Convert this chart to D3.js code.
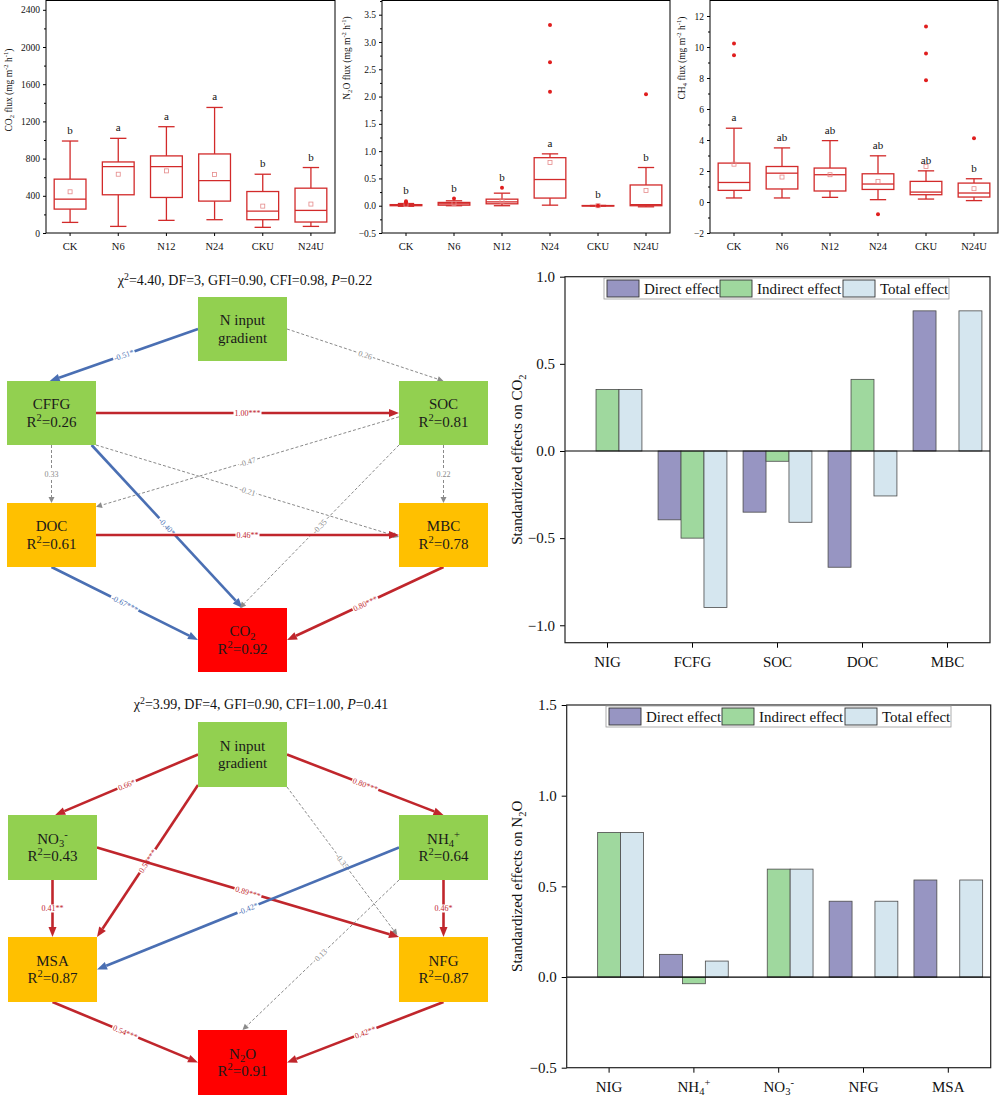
<!DOCTYPE html>
<html>
<head>
<meta charset="utf-8">
<title>GHG flux and SEM</title>
<script src="https://cdn.jsdelivr.net/npm/d3@7"></script>
<style>
  body { margin: 0; background: #fff; }
  svg { font-family: "Liberation Serif", "Times New Roman", serif; }
</style>
</head>
<body>
<script>
// ---------- boxplot data ----------
const treatments = ["CK", "N6", "N12", "N24", "CKU", "N24U"];
// [low whisker, Q1, median, Q3, high whisker, mean]
const co2Box = [
  [114, 257, 364, 579, 989, 443],
  [71, 411, 714, 764, 1018, 632],
  [136, 382, 714, 829, 1143, 668],
  [143, 343, 564, 850, 1350, 629],
  [61, 143, 236, 446, 632, 289],
  [71, 118, 243, 482, 704, 311]
];
const co2Out = [[], [], [], [], [], []];
const co2Letters = ["b", "a", "a", "a", "b", "b"];

const n2oBox = [
  [-0.01, 0.0, 0.01, 0.02, 0.04, 0.02],
  [0.0, 0.01, 0.035, 0.06, 0.09, 0.04],
  [0.0, 0.035, 0.07, 0.12, 0.23, 0.085],
  [0.01, 0.14, 0.48, 0.88, 0.95, 0.79],
  [-0.005, -0.003, 0.0, 0.003, 0.005, 0.0],
  [-0.02, 0.0, 0.02, 0.38, 0.70, 0.28]
];
const n2oOut = [[0.06, 0.08], [0.13], [0.33], [2.09, 2.63, 3.31], [0.0], [2.04]];
const n2oLetters = ["b", "b", "b", "a", "b", "b"];

const ch4Box = [
  [0.26, 0.75, 1.26, 2.51, 4.76, 2.44],
  [0.26, 0.84, 1.86, 2.29, 3.49, 1.61],
  [0.30, 0.71, 1.76, 2.19, 3.96, 1.76],
  [0.15, 0.81, 1.16, 1.82, 2.98, 1.33],
  [0.19, 0.47, 0.64, 1.33, 2.01, 2.29],
  [0.09, 0.32, 0.58, 1.22, 1.50, 0.86]
];
const ch4Out = [[9.47, 10.22], [], [], [-0.79], [7.86, 9.58, 11.33], [4.11]];
const ch4Letters = ["a", "ab", "ab", "ab", "ab", "b"];

// ---------- SEM data ----------
const co2Nodes = [
  { id: "NIG", lines: [["N input"], ["gradient"]], tier: "driver" },
  { id: "CFFG", lines: [["CFFG"], ["R", ["sup", "2"], "=0.26"]], tier: "driver" },
  { id: "SOC", lines: [["SOC"], ["R", ["sup", "2"], "=0.81"]], tier: "driver" },
  { id: "DOC", lines: [["DOC"], ["R", ["sup", "2"], "=0.61"]], tier: "mid" },
  { id: "MBC", lines: [["MBC"], ["R", ["sup", "2"], "=0.78"]], tier: "mid" },
  { id: "CO2", lines: [["CO", ["sub", "2"]], ["R", ["sup", "2"], "=0.92"]], tier: "resp" }
];
const co2Paths = [
  ["NIG", "CFFG", "-0.51*"],
  ["NIG", "SOC", "0.26"],
  ["CFFG", "SOC", "1.00***"],
  ["CFFG", "DOC", "0.33"],
  ["SOC", "MBC", "0.22"],
  ["SOC", "DOC", "-0.47"],
  ["CFFG", "MBC", "-0.21"],
  ["CFFG", "CO2", "-0.40*"],
  ["SOC", "CO2", "-0.35"],
  ["DOC", "MBC", "0.46**"],
  ["DOC", "CO2", "-0.67***"],
  ["MBC", "CO2", "0.80***"]
];
const co2Fit = ["χ", ["sup", "2"], "=4.40, DF=3, GFI=0.90, CFI=0.98,  ", ["it", "P"], "=0.22"];

const n2oNodes = [
  { id: "NIG", lines: [["N input"], ["gradient"]], tier: "driver" },
  { id: "NO3", lines: [["NO", ["sub", "3"], ["sup", "-"]], ["R", ["sup", "2"], "=0.43"]], tier: "driver" },
  { id: "NH4", lines: [["NH", ["sub", "4"], ["sup", "+"]], ["R", ["sup", "2"], "=0.64"]], tier: "driver" },
  { id: "MSA", lines: [["MSA"], ["R", ["sup", "2"], "=0.87"]], tier: "mid" },
  { id: "NFG", lines: [["NFG"], ["R", ["sup", "2"], "=0.87"]], tier: "mid" },
  { id: "N2O", lines: [["N", ["sub", "2"], "O"], ["R", ["sup", "2"], "=0.91"]], tier: "resp" }
];
const n2oPaths = [
  ["NIG", "NO3", "0.66*"],
  ["NIG", "NH4", "0.80***"],
  ["NIG", "MSA", "0.58***"],
  ["NIG", "NFG", "-0.35"],
  ["NO3", "MSA", "0.41**"],
  ["NH4", "NFG", "0.46*"],
  ["NO3", "NFG", "0.89***"],
  ["NH4", "MSA", "-0.42*"],
  ["NH4", "N2O", "0.13"],
  ["MSA", "N2O", "0.54***"],
  ["NFG", "N2O", "0.42**"]
];
const n2oFit = ["χ", ["sup", "2"], "=3.99, DF=4, GFI=0.90,  CFI=1.00, ", ["it", "P"], "=0.41"];

// ---------- effect bar data ----------
const effects = ["Direct effect", "Indirect effect", "Total effect"];
const co2Vars = ["NIG", "FCFG", "SOC", "DOC", "MBC"];
const co2Direct = [null, -0.395, -0.351, -0.667, 0.804];
const co2Indirect = [0.353, -0.50, -0.059, 0.411, null];
const co2Total = [0.353, -0.898, -0.409, -0.258, 0.804];

const n2oVars = ["NIG", "NH4", "NO3", "NFG", "MSA"];
const n2oVarLabels = [["NIG"], ["NH", ["sub", "4"], ["sup", "+"]], ["NO", ["sub", "3"], ["sup", "-"]], ["NFG"], ["MSA"]];
const n2oDirect = [null, 0.125, null, 0.418, 0.535];
const n2oIndirect = [0.797, -0.037, 0.595, null, null];
const n2oTotal = [0.797, 0.088, 0.595, 0.418, 0.535];

// ---------- styles / layout ----------
const boxRed = "#d22a2a";
const tierFill = { driver: "#92d050", mid: "#ffc000", resp: "#ff0000" };
const effectColors = ["#9795c2", "#9fd89e", "#d5e6ef"];
const posColor = "#c0262c", negColor = "#4a6fb3", nsColor = "#8a8a8a";

// grid cell of every node: [col, row]
const co2Grid = { NIG: [1, 0], CFFG: [0, 1], SOC: [2, 1], DOC: [0, 2], MBC: [2, 2], CO2: [1, 3] };
const n2oGrid = { NIG: [1, 0], NO3: [0, 1], NH4: [2, 1], MSA: [0, 2], NFG: [2, 2], N2O: [1, 3] };
// where each path leaves / enters its boxes, as fractions of the box
const co2Ports = [
  [[0, 0.5], [0.48, 0]], [[1, 0.5], [0.5, 0]], [[1, 0.5], [0, 0.5]], [[0.5, 1], [0.5, 0]],
  [[0.5, 1], [0.5, 0]], [[0, 0.56], [1, 0.06]], [[1, 1], [0, 0.53]], [[0.95, 1], [0.5, 0]],
  [[0, 1], [0.47, 0]], [[1, 0.5], [0, 0.5]], [[0.5, 1], [0, 0.5]], [[0.5, 1], [1, 0.5]]
];
const n2oPorts = [
  [[0, 0.5], [0.53, 0]], [[1, 0.5], [0.5, 0]], [[0, 0.97], [1, 0]], [[1, 1], [-0.02, -0.03]],
  [[0.5, 1], [0.5, 0]], [[0.5, 1], [0.5, 0]], [[1, 0.5], [0, 0]], [[0, 0.5], [1, 0.5]],
  [[0, 1], [0.5, 0]], [[0.5, 1], [0, 0.5]], [[0.5, 1], [1, 0.5]]
];

let svg = d3.select("body").append("svg").attr("width", 1000).attr("height", 1101);

// text with sub / superscripts / italics
function rich(text, parts, fs) {
  let off = 0;
  parts.forEach(p => {
    let t = p, s = fs, target = 0, it = false;
    if (typeof p !== "string") {
      t = p[1];
      if (p[0] === "sub") { s = fs * 0.7; target = fs * 0.25; }
      else if (p[0] === "sup") { s = fs * 0.7; target = -fs * 0.38; }
      else it = true;
    }
    let ts = text.append("tspan").attr("dy", target - off).style("font-size", s + "px").text(t);
    if (it) ts.style("font-style", "italic");
    off = target;
  });
}

function styleAxis(g, fs) {
  g.attr("font-family", null).attr("font-size", null);
  g.select(".domain").remove();
  g.selectAll("line").attr("stroke", "#000");
  g.selectAll("text").style("font-size", fs + "px").attr("fill", "#111");
}

// ---------- boxplot panel ----------
function boxPanel(o) {
  const x = d3.scaleBand().domain(treatments).range([o.left, o.right]);
  const y = d3.scaleLinear().domain(o.domain).range([o.bottom, o.top]);
  const g = svg.append("g");
  const bw = x.bandwidth() * 0.66, cap = x.bandwidth() * 0.34;

  g.append("g").attr("transform", `translate(${o.left},0)`)
    .call(d3.axisLeft(y).tickValues(o.ticks).tickSize(3).tickPadding(3).tickFormat(d3.format(o.fmt)))
    .call(a => styleAxis(a, 9.5));
  g.append("g").attr("transform", `translate(${o.left},0)`)
    .call(d3.axisLeft(y).tickValues(o.minor).tickSize(2).tickFormat(""))
    .call(a => styleAxis(a, 9.5));
  g.append("g").attr("transform", `translate(0,${o.bottom})`)
    .call(d3.axisBottom(x).tickSize(3).tickPadding(7))
    .call(a => styleAxis(a, 10.5));
  g.append("rect").attr("x", o.left).attr("y", o.top).attr("width", o.right - o.left)
    .attr("height", o.bottom - o.top).attr("fill", "none").attr("stroke", "#000").attr("stroke-width", 1);

  let yl = g.append("text").attr("text-anchor", "middle")
    .attr("transform", `translate(${o.labelX},${o.labelY}) rotate(-90)`).attr("fill", "#111");
  rich(yl, o.label, 9.5);

  o.stats.forEach((s, i) => {
    const cx = x(treatments[i]) + x.bandwidth() / 2;
    const bg = g.append("g").attr("stroke", boxRed).attr("stroke-width", 1.3).attr("fill", "none");
    bg.append("line").attr("x1", cx).attr("x2", cx).attr("y1", y(s[0])).attr("y2", y(s[1]));
    bg.append("line").attr("x1", cx).attr("x2", cx).attr("y1", y(s[3])).attr("y2", y(s[4]));
    [s[0], s[4]].forEach(v => bg.append("line").attr("x1", cx - cap / 2).attr("x2", cx + cap / 2)
      .attr("y1", y(v)).attr("y2", y(v)));
    bg.append("rect").attr("x", cx - bw / 2).attr("width", bw)
      .attr("y", y(s[3])).attr("height", Math.max(0.5, y(s[1]) - y(s[3]))).attr("fill", "#fff");
    bg.append("line").attr("x1", cx - bw / 2).attr("x2", cx + bw / 2).attr("y1", y(s[2])).attr("y2", y(s[2]));
    bg.append("rect").attr("x", cx - 2).attr("y", y(s[5]) - 2).attr("width", 4).attr("height", 4)
      .attr("stroke", "#e58a8a").attr("stroke-width", 0.8);
    g.selectAll(null).data(o.out[i]).enter().append("circle")
      .attr("cx", cx).attr("cy", d => y(d)).attr("r", 2).attr("fill", "#e01e1e");
    // letter sits above the whisker (or a nearby outlier)
    let topY = y(s[4]);
    o.out[i].forEach(v => { if (y(v) < topY && topY - y(v) < 14) topY = y(v); });
    g.append("text").attr("x", cx).attr("y", topY - 7).attr("text-anchor", "middle")
      .style("font-size", "11px").attr("fill", "#111").text(o.letters[i]);
  });
}

boxPanel({
  left: 46, right: 335, top: 0.5, bottom: 233, domain: [0, 2500],
  ticks: d3.range(0, 2401, 400), minor: d3.range(200, 2401, 400), fmt: "d",
  stats: co2Box, out: co2Out, letters: co2Letters,
  label: ["CO", ["sub", "2"], " flux (mg m", ["sup", "-2"], " h", ["sup", "-1"], ")"], labelX: 11.5, labelY: 90
});
boxPanel({
  left: 382, right: 670, top: 0.5, bottom: 233, domain: [-0.5, 3.76],
  ticks: d3.range(-0.5, 3.51, 0.5), minor: d3.range(-0.25, 3.76, 0.5), fmt: ".1f",
  stats: n2oBox, out: n2oOut, letters: n2oLetters,
  label: ["N", ["sub", "2"], "O flux (mg m", ["sup", "-2"], " h", ["sup", "-1"], ")"], labelX: 349.5, labelY: 58
});
boxPanel({
  left: 710, right: 998, top: 0.5, bottom: 233, domain: [-2, 13],
  ticks: d3.range(-2, 12.1, 2), minor: d3.range(-1, 11.1, 2), fmt: "d",
  stats: ch4Box, out: ch4Out, letters: ch4Letters,
  label: ["CH", ["sub", "4"], " flux (mg m", ["sup", "-2"], " h", ["sup", "-1"], ")"], labelX: 684.5, labelY: 58
});

// ---------- SEM diagram ----------
function drawSEM(o) {
  const colX = d3.scaleOrdinal().domain([0, 1, 2]).range(o.cols);
  const rowY = d3.scaleOrdinal().domain([0, 1, 2, 3]).range(o.rows);
  const g = svg.append("g");
  const box = id => ({ x: colX(o.grid[id][0]), y: rowY(o.grid[id][1]), w: o.w, h: o.h });

  let tt = g.append("text").attr("x", o.titleX).attr("y", o.titleY).attr("text-anchor", "middle").attr("fill", "#111");
  rich(tt, o.fit, 14);

  const eg = g.append("g");
  const ng = g.append("g");

  o.nodes.forEach(n => {
    const b = box(n.id);
    ng.append("rect").attr("x", b.x).attr("y", b.y).attr("width", b.w).attr("height", b.h)
      .attr("fill", tierFill[n.tier]);
    n.lines.forEach((ln, k) => {
      let t = ng.append("text").attr("x", b.x + b.w / 2).attr("y", b.y + b.h / 2 - 4 + k * 17.5)
        .attr("text-anchor", "middle").attr("fill", "#1a1a1a");
      rich(t, ln, 15);
    });
  });

  o.paths.forEach((p, i) => {
    const [from, to, coef] = p;
    const sig = coef.indexOf("*") >= 0, neg = coef[0] === "-";
    const col = !sig ? nsColor : (neg ? negColor : posColor);
    const a = box(from), b = box(to), pt = o.ports[i];
    const x1 = a.x + pt[0][0] * a.w, y1 = a.y + pt[0][1] * a.h;
    const x2 = b.x + pt[1][0] * b.w, y2 = b.y + pt[1][1] * b.h;
    const ang = Math.atan2(y2 - y1, x2 - x1);
    const hl = sig ? 10 : 6, hw = sig ? 4 : 3;
    const bx = x2 - hl * Math.cos(ang), by = y2 - hl * Math.sin(ang);
    eg.append("line").attr("x1", x1).attr("y1", y1).attr("x2", bx).attr("y2", by)
      .attr("stroke", col).attr("stroke-width", sig ? 2.6 : 1)
      .attr("stroke-dasharray", sig ? null : "3,2");
    const nx = -Math.sin(ang), ny = Math.cos(ang);
    eg.append("path").attr("fill", col)
      .attr("d", `M${x2},${y2}L${bx + nx * hw},${by + ny * hw}L${bx - nx * hw},${by - ny * hw}Z`);
    // coefficient on the line; vertical paths keep it upright
    let deg = ang * 180 / Math.PI;
    if (deg > 90) deg -= 180;
    if (deg <= -90) deg += 180;
    if (Math.abs(deg) > 80) deg = 0;
    const lg = eg.append("g").attr("transform", `translate(${(x1 + x2) / 2},${(y1 + y2) / 2}) rotate(${deg})`);
    const lr = lg.append("rect").attr("fill", "#fff");
    const lt = lg.append("text").attr("text-anchor", "middle").attr("y", 2.8)
      .style("font-size", "8px").attr("fill", col).text(coef);
    const tw = lt.node().getComputedTextLength();
    lr.attr("x", -tw / 2 - 1).attr("y", -4).attr("width", tw + 2).attr("height", 8);
  });
}

drawSEM({
  nodes: co2Nodes, paths: co2Paths, ports: co2Ports, grid: co2Grid, fit: co2Fit,
  cols: [7, 198, 399], rows: [297, 381, 503, 608], w: 89, h: 64, titleX: 245, titleY: 285
});
drawSEM({
  nodes: n2oNodes, paths: n2oPaths, ports: n2oPorts, grid: n2oGrid, fit: n2oFit,
  cols: [8, 198, 399], rows: [722, 815, 937, 1030], w: 89, h: 65, titleX: 261, titleY: 709
});

// ---------- effect bars ----------
function barPanel(o) {
  const x = d3.scaleBand().domain(o.vars).range([o.left, o.right]);
  const gw = x.bandwidth() * 0.81;
  const x1 = d3.scaleBand().domain(effects).range([(x.bandwidth() - gw) / 2, (x.bandwidth() + gw) / 2]);
  const y = d3.scaleLinear().domain(o.domain).range([o.bottom, o.top]);
  const g = svg.append("g");

  [o.direct, o.indirect, o.total].forEach((vals, k) => {
    g.selectAll(null).data(vals.map((v, i) => ({ v, i })).filter(d => d.v !== null))
      .enter().append("rect")
      .attr("x", d => x(o.vars[d.i]) + x1(effects[k]))
      .attr("y", d => y(Math.max(0, d.v)))
      .attr("width", x1.bandwidth())
      .attr("height", d => Math.abs(y(d.v) - y(0)))
      .attr("fill", effectColors[k]).attr("stroke", "#4a4a4a").attr("stroke-width", 0.8);
  });
  g.append("line").attr("x1", o.left).attr("x2", o.right).attr("y1", y(0)).attr("y2", y(0))
    .attr("stroke", "#000").attr("stroke-width", 1.2);

  g.append("g").attr("transform", `translate(${o.left},0)`)
    .call(d3.axisLeft(y).tickValues(o.ticks).tickSize(5).tickPadding(5).tickFormat(d3.format(".1f")))
    .call(a => styleAxis(a, 15));
  g.append("g").attr("transform", `translate(0,${o.bottom})`)
    .call(d3.axisBottom(x).tickSize(5).tickFormat(""))
    .call(a => styleAxis(a, 15));
  o.varLabels.forEach((lab, i) => {
    let t = g.append("text").attr("x", x(o.vars[i]) + x.bandwidth() / 2).attr("y", o.bottom + 24)
      .attr("text-anchor", "middle").attr("fill", "#111");
    rich(t, lab, 15);
  });
  g.append("rect").attr("x", o.left).attr("y", o.top).attr("width", o.right - o.left)
    .attr("height", o.bottom - o.top).attr("fill", "none").attr("stroke", "#222").attr("stroke-width", 1.2);

  let yl = g.append("text").attr("text-anchor", "middle").attr("fill", "#111")
    .attr("transform", `translate(522,${(o.top + o.bottom) / 2}) rotate(-90)`);
  rich(yl, o.label, 15);

  // legend
  const lgd = g.append("g").attr("transform", `translate(${o.legend[0]},${o.legend[1]})`);
  lgd.append("rect").attr("width", 345).attr("height", 21).attr("fill", "#fff")
    .attr("stroke", "#9a9a9a").attr("stroke-width", 0.8);
  [3, 116, 239].forEach((lx, k) => {
    lgd.append("rect").attr("x", lx).attr("y", 2).attr("width", 32).attr("height", 17)
      .attr("fill", effectColors[k]).attr("stroke", "#333").attr("stroke-width", 0.9);
    lgd.append("text").attr("x", lx + 37).attr("y", 15.5).style("font-size", "15px")
      .attr("fill", "#111").text(effects[k]);
  });
}

barPanel({
  left: 565, right: 990, top: 276.7, bottom: 642.7, domain: [-1.1, 1.0], ticks: [-1, -0.5, 0, 0.5, 1],
  vars: co2Vars, varLabels: co2Vars.map(v => [v]), direct: co2Direct, indirect: co2Indirect, total: co2Total,
  label: ["Standardized effects on CO", ["sub", "2"]], legend: [604, 278]
});
barPanel({
  left: 566.7, right: 990.7, top: 705, bottom: 1067.7, domain: [-0.5, 1.5], ticks: [-0.5, 0, 0.5, 1, 1.5],
  vars: n2oVars, varLabels: n2oVarLabels, direct: n2oDirect, indirect: n2oIndirect, total: n2oTotal,
  label: ["Standardized effects on N", ["sub", "2"], "O"], legend: [606, 706]
});
</script>
</body>
</html>
